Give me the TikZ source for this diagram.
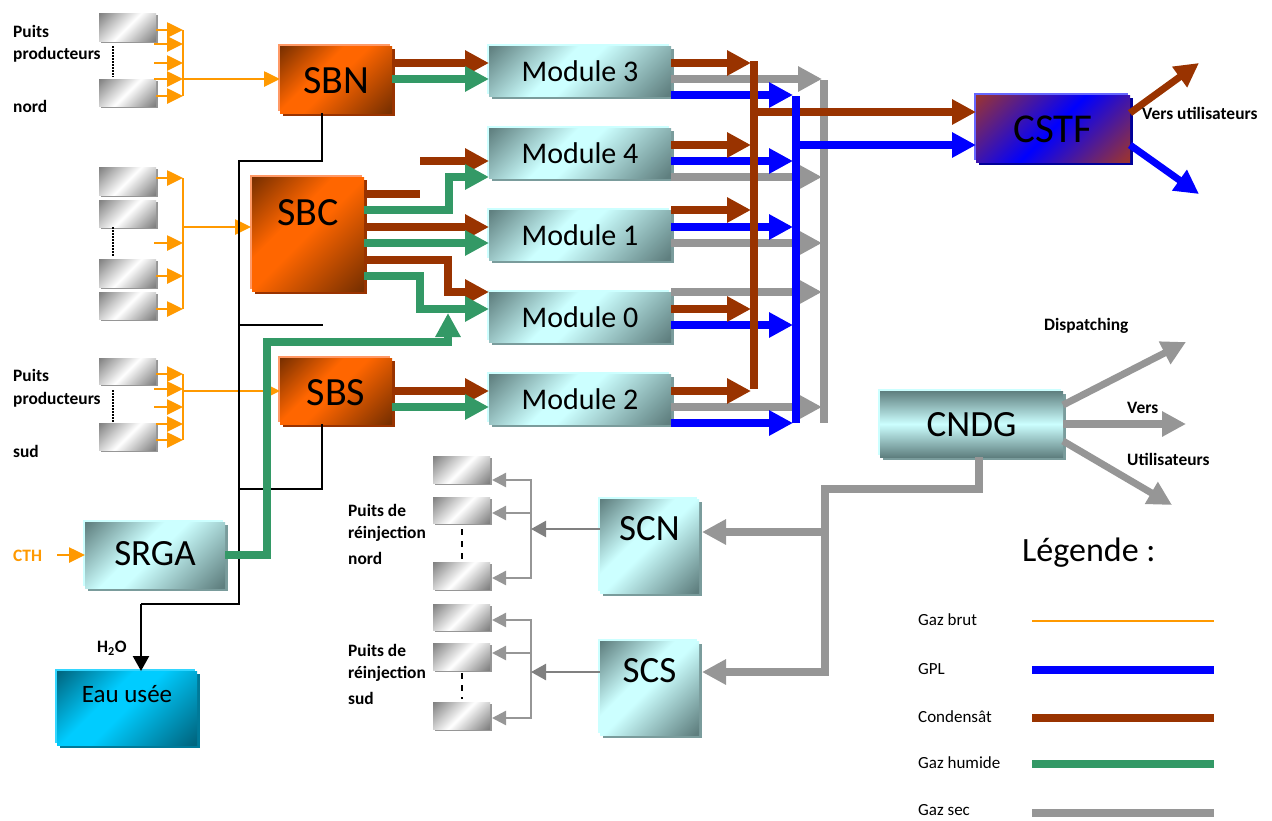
\documentclass[tikz,border=0pt]{standalone}
\usepackage{fontspec}
\setmainfont{Carlito}
\usetikzlibrary{arrows.meta,shadows}
\definecolor{cbrown}{HTML}{993300}
\definecolor{cgreen}{HTML}{339966}
\definecolor{cblue}{HTML}{0000FF}
\definecolor{cgray}{HTML}{969696}
\definecolor{cdgray}{HTML}{808080}
\definecolor{corange}{HTML}{FF9900}
\definecolor{tealD}{HTML}{5F7F7F}
\definecolor{tealL}{HTML}{CCFFFF}
\definecolor{tealS}{HTML}{7A9C9C}
\definecolor{orD}{HTML}{7A3000}
\definecolor{orL}{HTML}{FF6600}
\definecolor{orH}{HTML}{FF9966}
\definecolor{orS}{HTML}{993300}
\definecolor{cyD}{HTML}{006680}
\definecolor{cyL}{HTML}{00CCFF}
\definecolor{cyH}{HTML}{33D6FF}
\definecolor{cyS}{HTML}{007A99}
\definecolor{blD}{HTML}{993333}
\definecolor{blL}{HTML}{0000FF}
\definecolor{blH}{HTML}{6666FF}
\definecolor{blS}{HTML}{000099}
\definecolor{grD}{HTML}{808080}
\definecolor{grL}{HTML}{FFFFFF}
\pgfdeclareverticalshading{tealdiag}{100bp}{color(0bp)=(tealD); color(16bp)=(tealD); color(50bp)=(tealL); color(58bp)=(tealL); color(85bp)=(tealD); color(100bp)=(tealD)}
\pgfdeclareverticalshading{ordiag}{100bp}{color(0bp)=(orD); color(16bp)=(orD); color(50bp)=(orL); color(60bp)=(orL); color(85bp)=(orD); color(100bp)=(orD)}
\pgfdeclareverticalshading{cydiag}{100bp}{color(0bp)=(cyD); color(16bp)=(cyD); color(50bp)=(cyL); color(60bp)=(cyL); color(85bp)=(cyD); color(100bp)=(cyD)}
\pgfdeclareverticalshading{bldiag}{100bp}{color(0bp)=(blD); color(16bp)=(blD); color(50bp)=(blL); color(85bp)=(blD); color(100bp)=(blD)}
\pgfdeclareverticalshading{grdiag}{100bp}{color(0bp)=(grD); color(16bp)=(grD); color(50bp)=(grL); color(85bp)=(grD); color(100bp)=(grD)}
\pgfdeclareverticalshading{tealvert}{100bp}{color(0bp)=(tealD); color(25bp)=(tealD); color(50bp)=(tealL); color(75bp)=(tealD); color(100bp)=(tealD)}
\tikzset{
  gbox/.style n args={4}{rectangle,inner sep=0pt,outer sep=0pt,minimum width=#1,minimum height=#2,
     font=\fontsize{#3}{#3}\selectfont,text height=0.7*#3,text depth=2*#4,align=center},
  hl/.style={general shadow={shadow xshift=-2pt,shadow yshift=2pt,fill=#1}},
  sh/.style={general shadow={shadow xshift=3pt,shadow yshift=-3pt,fill=#1}},
  orbox/.style={sh=orS,hl=orH,shading=ordiag,shading angle=45},
  tealbox/.style={sh=tealS,hl=tealL,shading=tealdiag,shading angle=45},
  cybox/.style={sh=cyS,hl=cyH,shading=cydiag,shading angle=45},
  blbox/.style={sh=blS,hl=blH,shading=bldiag,shading angle=45},
  cnbox/.style={sh=tealS,hl=tealL,shading=tealvert},
  well/.style={rectangle,inner sep=0pt,outer sep=0pt,minimum width=57pt,minimum height=#1,
     general shadow={shadow xshift=2pt,shadow yshift=-2pt,fill=cgray},shading=grdiag,shading angle=45},
  bigA/.style={line width=8pt,line join=miter,-{Triangle[length=24pt,width=24pt]}},
  bigL/.style={line width=8pt,line join=miter},
  orA/.style={line width=2.6pt,corange,-{Triangle[length=16pt,width=15pt]}},
  orL/.style={line width=2.6pt,corange},
  grA/.style={line width=2.4pt,cgray,-{Triangle[length=14pt,width=14pt]}},
  grL/.style={line width=2.4pt,cgray},
  dkA/.style={line width=2.4pt,cdgray,-{Triangle[length=15pt,width=16pt]}},
  blk/.style={line width=1.8pt,black},
  txt/.style={inner sep=0pt,anchor=west,font=\fontsize{17.4}{20}\bfseries\selectfont},
  leg/.style={inner sep=0pt,anchor=west,font=\fontsize{17}{19}\selectfont},
}
\begin{document}
\begin{tikzpicture}[x=1pt,y=-1pt]
\useasboundingbox (0,0) rectangle (1272,820);
% Main boxes
\node[gbox={112pt}{67pt}{40pt}{0pt},orbox] (sbn) at (336,79.5) {SBN};
\node[gbox={112pt}{114pt}{40pt}{23pt},orbox] (sbc) at (308,234) {SBC};
\node[gbox={112pt}{66pt}{40pt}{0pt},orbox] (sbs) at (336,391) {SBS};
\node[gbox={140pt}{66pt}{37pt}{2pt},tealbox] (srga) at (155,555) {SRGA};
\node[gbox={140pt}{74pt}{25pt}{14pt},cybox] (eau) at (127,708) {Eau usée};
\foreach \n/\yy/\t in {m3/71/Module 3,m4/153/Module 4,m1/235/Module 1,m0/317/Module 0,m2/399/Module 2}
  \node[gbox={182pt}{50pt}{30pt}{0pt},tealbox] (\n) at (580,\yy) {\t};
\node[gbox={154pt}{67pt}{41pt}{0pt},blbox] (cstf) at (1053,128.5) {CSTF};
\node[gbox={183pt}{66pt}{37pt}{0pt},cnbox] (cndg) at (971.5,424) {CNDG};
\node[gbox={99pt}{94pt}{37pt}{18pt},tealbox] (scn) at (649.5,546) {SCN};
\node[gbox={99pt}{94pt}{37pt}{18pt},tealbox] (scs) at (649.5,688) {SCS};
% Wells
\foreach \n/\yy/\h in {wa/27/28pt,wb/92.5/27pt,wc/181/28pt,wd/213.5/27pt,we/273/28pt,wf/305.5/27pt,wg/371/26pt,wh/436.5/27pt}
  \node[well=\h] (\n) at (127.5,\yy) {};
\foreach \n/\yy/\h in {ra/469.5/27pt,rb/510/26pt,rc/575.5/27pt,rd/617/26pt,re/656.5/27pt,rf/715.5/27pt}
  \node[well=\h] (\n) at (461.5,\yy) {};
% Dots between wells
\draw[black,line width=1.5pt,dash pattern=on 1.5pt off 1.5pt] (wa.south -| 113,0) ++(0,5) -- (113,77);
\draw[black,line width=1.5pt,dash pattern=on 1.5pt off 1.5pt] (wd.south -| 113,0) -- (113,257);
\draw[black,line width=1.5pt,dash pattern=on 1.5pt off 1.5pt] (113,390) -- (wh.north -| 113,0);
\draw[black,line width=1.5pt,dash pattern=on 6pt off 6pt] (462,529) -- (rc.north -| 462,0);
\draw[black,line width=1.5pt,dash pattern=on 6pt off 6pt] (462,673) -- (462,699);
% Orange: north group
\coordinate (ona) at (183,30); \coordinate (onb) at (183,96);
\draw[orA] (wa.east |- 0,30) -- (ona);
\draw[orA] (154,44) -- (183,44);
\draw[orA] (154,63) -- (183,63);
\draw[orA] (154,79) -- (183,79);
\draw[orA] (wb.east |- 0,96) -- (onb);
\draw[orL] (ona) -- (onb);
\draw[orA] (183,79) -- (sbn.west |- 0,79);
% Orange: centre group
\coordinate (oca) at (183,178); \coordinate (ocb) at (183,309);
\draw[orA] (wc.east |- 0,178) -- (oca);
\draw[orA] (154,243) -- (183,243);
\draw[orA] (we.east |- 0,276) -- (183,276);
\draw[orA] (wf.east |- 0,309) -- (ocb);
\draw[orL] (oca) -- (ocb);
\draw[orA] (183,227) -- ([xshift=-1pt]sbc.west |- 0,227);
% Orange: south group
\coordinate (osa) at (183,374); \coordinate (osb) at (183,440);
\draw[orA] (wg.east |- 0,374) -- (osa);
\draw[orA] (154,389) -- (183,389);
\draw[orA] (154,407) -- (183,407);
\draw[orA] (156,424) -- (183,424);
\draw[orA] (wh.east |- 0,440) -- (osb);
\draw[orL] (osa) -- (osb);
\draw[orA] (183,391) -- (sbs.west |- 0,391);
% CTH
\node[txt,text=corange] (cth) at (13,556) {CTH};
\draw[orA] (57,555) -- (srga.west |- 0,555);
% Black network
\draw[blk] (sbn.south -| 322,0) -- (322,161) -- (239,161) -- (239,604) -- (141,604);
\draw[blk] (239,325) -- (323,325);
\draw[blk] (sbs.south -| 322,0) -- (322,489) -- (239,489);
\draw[line width=2.4pt,black,-{Triangle[length=15pt,width=16pt]}] (141,604) -- (eau.north -| 141,0);
% Reinjection
\coordinate (nb) at (531,529); \coordinate (sb) at (531,672);
\draw[grL,line cap=rect] (531,480) -- (531,578);
\draw[grL,line cap=rect] (531,620) -- (531,718);
\foreach \w/\yy in {ra/480,rb/513,rc/578}
  \draw[grA] (531,\yy) -- ([xshift=2pt]\w.east |- 0,\yy);
\foreach \w/\yy in {rd/620,re/653,rf/718}
  \draw[grA] (531,\yy) -- ([xshift=2pt]\w.east |- 0,\yy);
\draw[dkA] (scn.west |- nb) -- (nb);
\draw[dkA] (scs.west |- sb) -- (sb);
% Green and brown into modules
\draw[bigL,cbrown] (sbc.east |- 0,194) -- (420,194);
\draw[bigA,cbrown] (420,161) -- (m4.west |- 0,161);
\draw[bigA,cgreen] (sbc.east |- 0,210) -- (449,210) -- (449,177) -- (m4.west |- 0,177);
\draw[bigA,cbrown] (sbc.east |- 0,227) -- (m1.west |- 0,227);
\draw[bigA,cgreen] (sbc.east |- 0,243) -- (m1.west |- 0,243);
\draw[bigA,cbrown] (sbc.east |- 0,260) -- (448,260) -- (448,292) -- (m0.west |- 0,292);
\draw[bigA,cgreen] (sbc.east |- 0,276) -- (420,276) -- (420,309) -- (m0.west |- 0,309);
\coordinate (gup) at (448,313);
\draw[bigA,cgreen] (srga.east |- 0,555) -- (267,555) -- (267,342) -- (448,342) -- (gup);
\draw[bigA,cbrown] (sbn.east |- 0,63) -- (m3.west |- 0,63);
\draw[bigA,cgreen] (sbn.east |- 0,79) -- (m3.west |- 0,79);
\draw[bigA,cbrown] (sbs.east |- 0,391) -- (m2.west |- 0,391);
\draw[bigA,cgreen] (sbs.east |- 0,407) -- (m2.west |- 0,407);
% Collecting bars
\coordinate (brT) at (754,61); \coordinate (brB) at (754,389);
\coordinate (blT) at (796,96); \coordinate (blB) at (796,423);
\coordinate (gyT) at (824,80); \coordinate (gyB) at (824,423);
\draw[bigL,cgray] (gyT) -- (gyB);
\foreach \m/\yy in {m3/79,m4/177,m1/243,m0/292,m2/407}
  \draw[bigA,cgray] (\m.east |- 0,\yy) -- ([xshift=-2pt]gyT |- 0,\yy);
\foreach \m/\yy in {m3/95,m4/161,m1/227,m0/325,m2/423}
  \draw[bigA,cblue] (\m.east |- 0,\yy) -- ([xshift=-3pt]blT |- 0,\yy);
\foreach \m/\yy in {m3/63,m4/145,m1/210,m0/309,m2/391}
  \draw[bigA,cbrown] (\m.east |- 0,\yy) -- ([xshift=-3pt]brT |- 0,\yy);
\draw[bigL,cbrown] (brT) -- (brB);
\draw[bigA,cbrown] (brT |- 0,112) -- (cstf.west |- 0,112);
\draw[bigL,cblue] (blT) -- (blB);
\draw[bigA,cblue] (blT |- 0,145) -- (cstf.west |- 0,145);
% CSTF outputs
\coordinate (ou1) at (1199,63); \coordinate (ou2) at (1199,194);
\draw[line width=7pt,line join=miter,cbrown,-{Triangle[length=24pt,width=24pt]}] (cstf.east |- 0,113) -- (ou1);
\draw[line width=7pt,line join=miter,cblue,-{Triangle[length=24pt,width=24pt]}] (cstf.east |- 0,145) -- (ou2);
% CNDG outputs
\coordinate (cu1) at (1186,342); \coordinate (cu2) at (1186,424); \coordinate (cu3) at (1172,505);
\draw[line width=7pt,cgray,-{Triangle[length=24pt,width=24pt]}] (cndg.east |- 0,405) -- (cu1);
\draw[bigA,cgray] (cndg.east |- 0,424) -- (cu2);
\draw[line width=7pt,cgray,-{Triangle[length=24pt,width=24pt]}] (cndg.east |- 0,441) -- (cu3);
% CNDG to SCN/SCS
\draw[bigL,cgray] (cndg.south -| 979,0) -- (979,489) -- (825,489) -- (825,672) -- (760,672);
\draw[bigA,cgray,-{Triangle[length=24pt,width=24pt]}] (825,672) -- ([xshift=3pt]scs.east |- 0,672);
\draw[bigA,cgray] (825,532) -- ([xshift=3pt]scn.east |- 0,532);
% Legend
\node[inner sep=0pt,anchor=west,font=\fontsize{34}{38}\selectfont] (legt) at (1022,553) {Légende :};
\foreach \n/\yy/\ty/\t/\c/\w in {l1/621/620/Gaz brut/corange/2.5pt,l2/670/669/GPL/cblue/8pt,l3/718/717/Condensât/cbrown/8pt,l4/764/763/Gaz humide/cgreen/8pt,l5/813/810/Gaz sec/cgray/8pt}{
  \node[leg] (\n) at (918,\ty) {\t};
  \coordinate (\n e) at (1214,\yy);
  \draw[\c,line width=\w] (1032,\yy) -- (\n e);
}
% Labels
\node[txt] (t1) at (13,31) {Puits};
\node[txt] (t2) at (13,55) {producteurs};
\node[txt] (t3) at (13,106) {nord};
\node[txt] (t4) at (13,375) {Puits};
\node[txt] (t5) at (13,400) {producteurs};
\node[txt] (t6) at (13,451) {sud};
\node[txt] (t7) at (348,510) {Puits de};
\node[txt] (t8) at (348,534) {réinjection};
\node[txt] (t9) at (348,558) {nord};
\node[txt] (t10) at (348,650) {Puits de};
\node[txt] (t11) at (348,674) {réinjection};
\node[txt] (t12) at (348,698) {sud};
\node[txt] (h2o) at (97,648) {H\textsubscript{2}O};
\node[txt] (disp) at (1044,326) {Dispatching};
\node[txt] (vers) at (1127,408) {Vers};
\node[txt] (util) at (1127,459) {Utilisateurs};
\node[txt] (vu) at (1142,113) {Vers utilisateurs};
\end{tikzpicture}
\end{document}
